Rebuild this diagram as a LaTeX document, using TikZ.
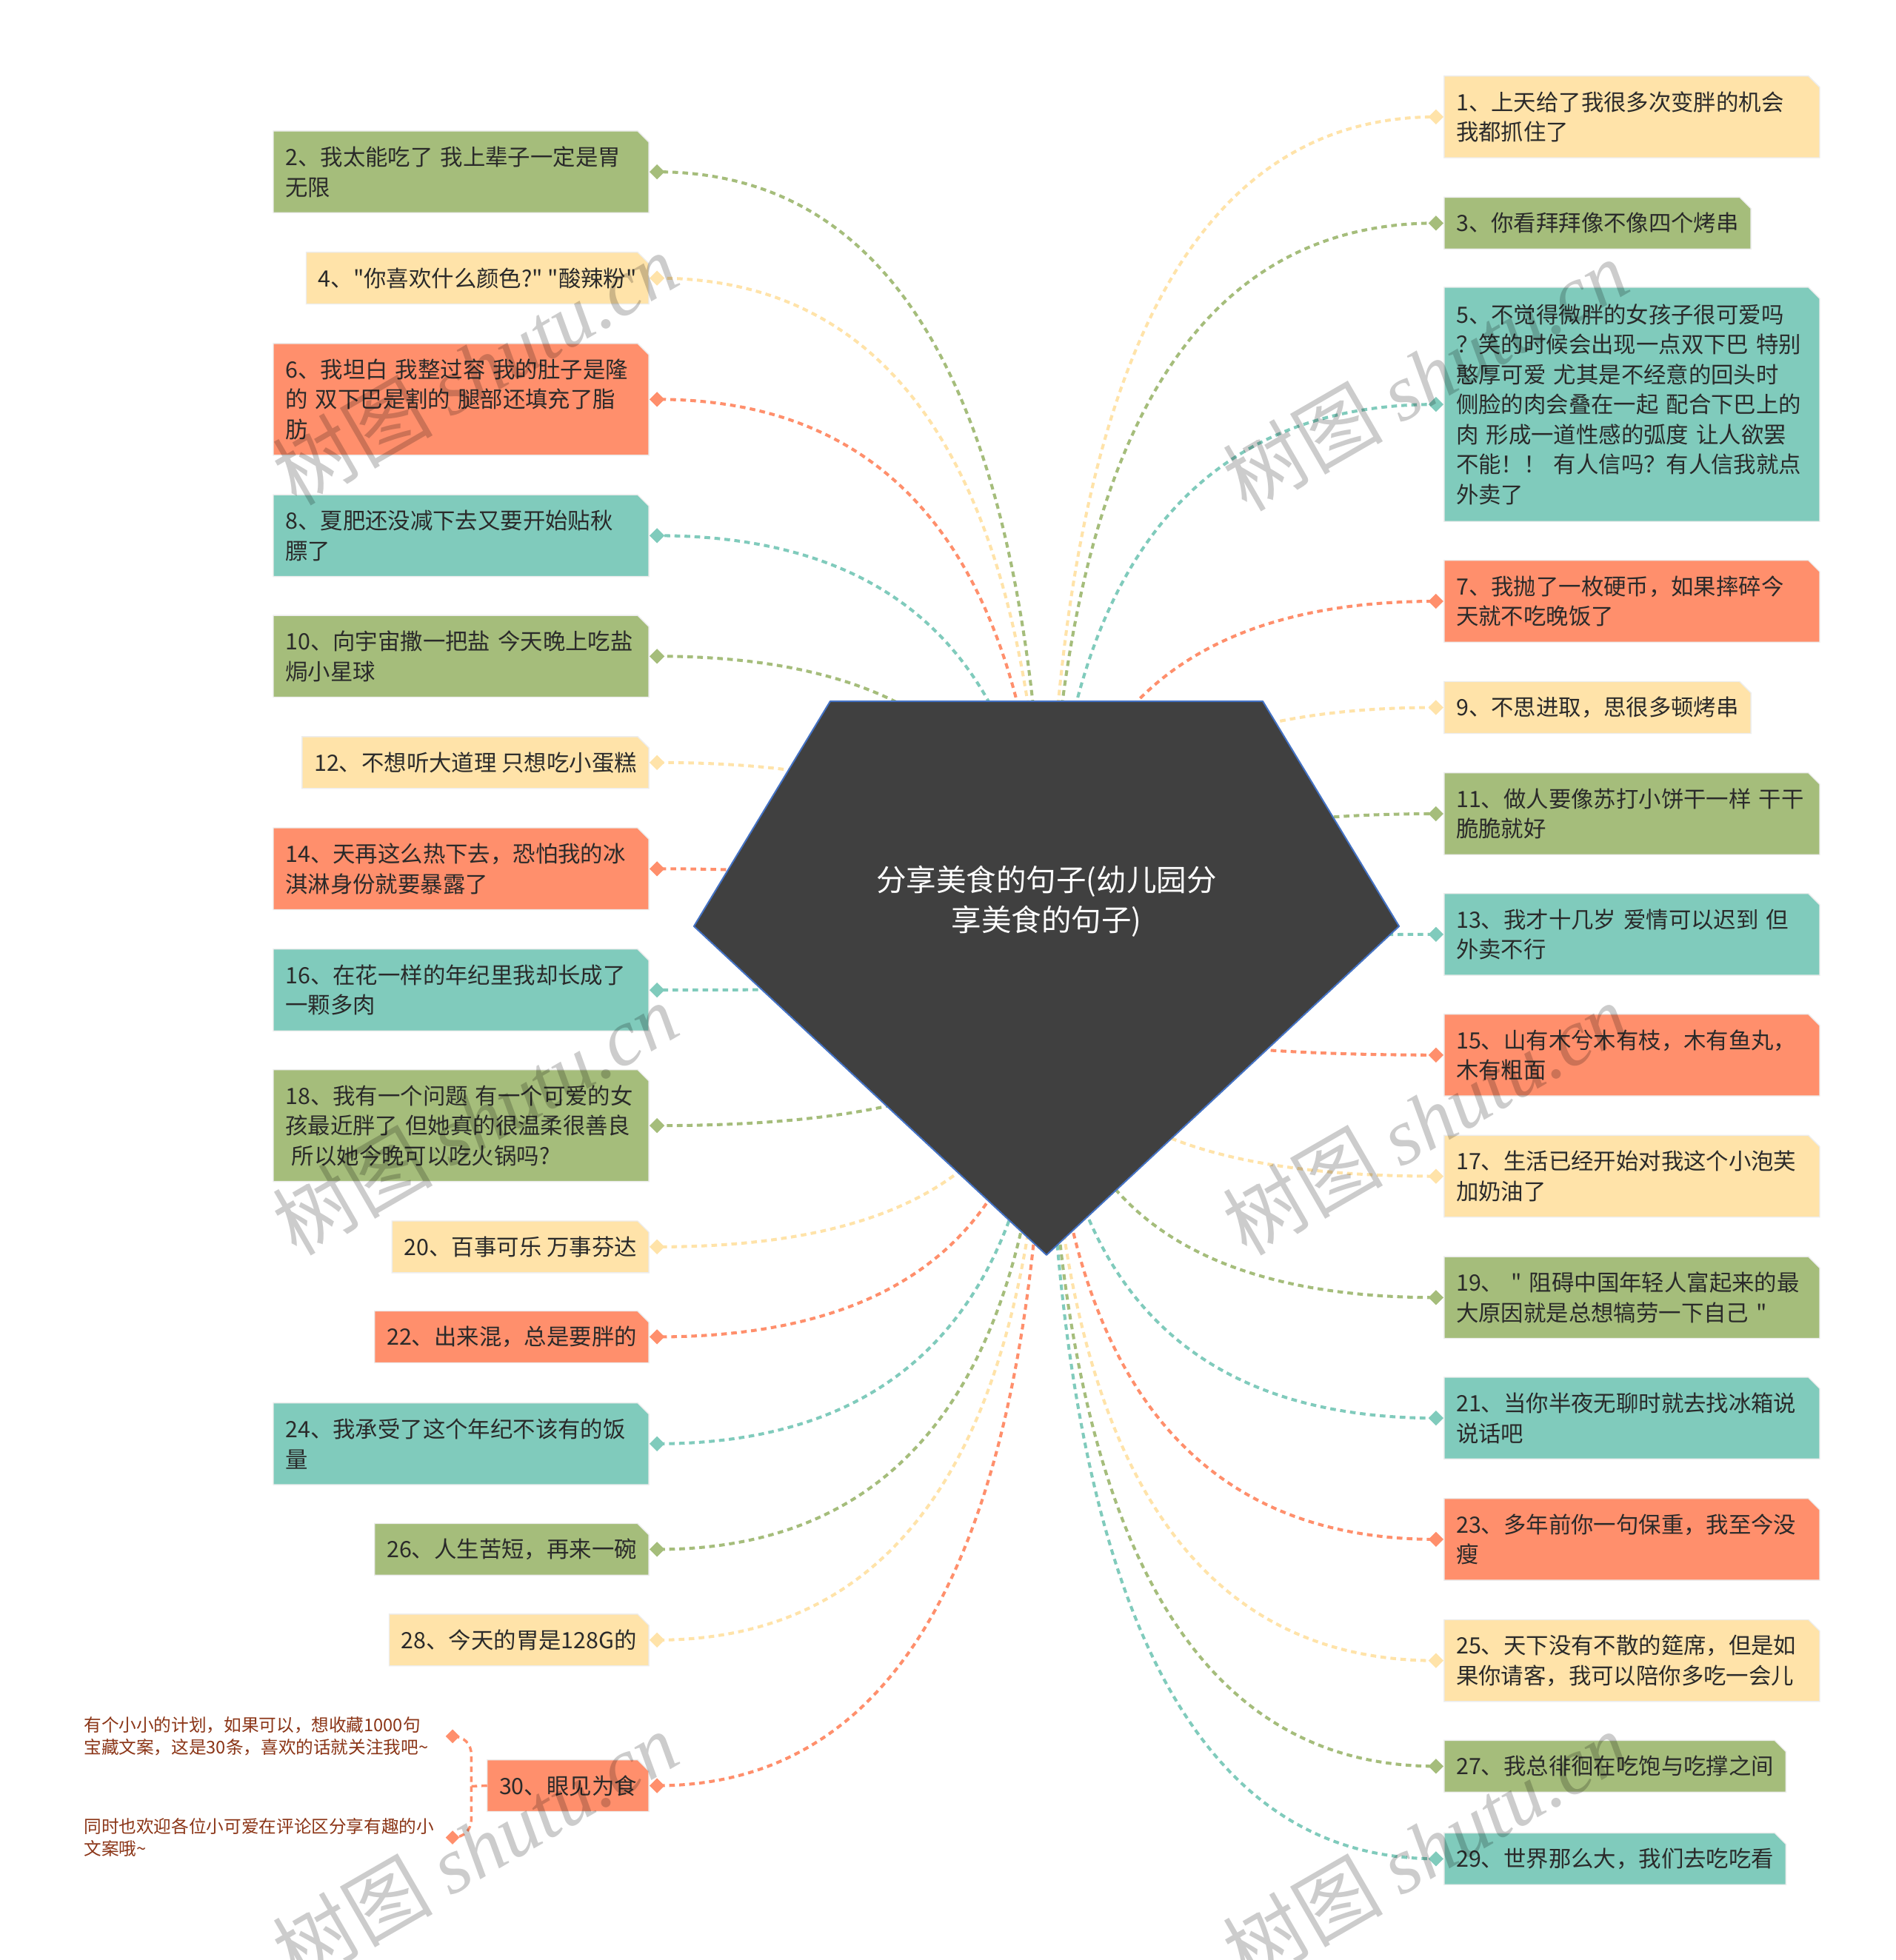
\documentclass[tikz,border=0pt]{standalone}
\usepackage{fontspec}
\setmainfont{Noto Sans CJK SC}[Ligatures=TeXOff]
\newfontfamily\wmlatin{Liberation Serif}
\usetikzlibrary{calc,backgrounds}
\definecolor{cgreen}{HTML}{A5BD7B}
\definecolor{cyellow}{HTML}{FFE3A9}
\definecolor{corange}{HTML}{FF8F6C}
\definecolor{cteal}{HTML}{80CBBC}
\definecolor{txt}{HTML}{2A2A2A}
\definecolor{rootfill}{HTML}{404040}
\definecolor{rootline}{HTML}{4472C4}
\definecolor{notetxt}{HTML}{8B3517}
\tikzset{
  item/.style={font=\fontsize{18}{24}\selectfont, text=txt, inner xsep=9.5pt, inner ysep=0pt, align=left},
  multi/.style={item, text width=281pt},
  conn/.style={draw=#1, line width=2.4pt, dash pattern=on 4.5pt off 3.5pt},
  note/.style={font=\fontsize{14}{18}\selectfont, text=notetxt, align=left, inner sep=0pt},
  wm/.style={rotate=30, font=\fontsize{64}{64}\selectfont, text=black, opacity=0.2, inner sep=0pt},
  h1/.style={minimum height=41pt},
  h2/.style={minimum height=65pt},
  h3/.style={minimum height=89pt},
}
\newcommand\boxbg[2]{\fill[#2] (#1.south west) -- (#1.south east) -- ([yshift=-9pt]#1.north east) -- ([xshift=-9pt]#1.north east) -- (#1.north west) -- cycle;
  \draw[black!7, line width=0.8pt] (#1.south west) -- (#1.south east) -- ([yshift=-9pt]#1.north east) -- ([xshift=-9pt]#1.north east) -- (#1.north west) -- cycle;}
\newcommand\curvelink[2]{%
  \draw[conn=#2] (c) .. controls ($(c)!0.6667!(c|-#1)$) and ($(#1)!0.6667!(c|-#1)$) .. (#1);
  \fill[#2] (#1) +(-6,0) -- +(0,-6) -- +(6,0) -- +(0,6) -- cycle;}
\newcommand\linkL[2]{\coordinate (#1d) at ([xshift=6.5pt]#1.east); \curvelink{#1d}{#2}}
\newcommand\linkR[2]{\coordinate (#1d) at ([xshift=-6.5pt]#1.west); \curvelink{#1d}{#2}}
\newcommand\wmtext{树图 {\wmlatin\itshape shutu.cn}}
\begin{document}
\begin{tikzpicture}[x=1pt,y=-1pt]
\useasboundingbox (0,0) rectangle (1516,1568);
\coordinate (c) at (837,780);
% ---- left nodes
\node[multi, h2, anchor=east] (L2) at (519,137.5) {2、我太能吃了 我上辈子一定是胃\\无限};
\node[item, h1, anchor=east] (L4) at (519,222.5) {4、"你喜欢什么颜色?" "酸辣粉"};
\node[multi, h3, anchor=east] (L6) at (519,319.5) {6、我坦白 我整过容 我的肚子是隆\\的 双下巴是割的 腿部还填充了脂\\肪};
\node[multi, h2, anchor=east] (L8) at (519,428.5) {8、夏肥还没减下去又要开始贴秋\\膘了};
\node[multi, h2, anchor=east] (L10) at (519,525) {10、向宇宙撒一把盐 今天晚上吃盐\\焗小星球};
\node[item, h1, anchor=east] (L12) at (519,610) {12、不想听大道理 只想吃小蛋糕};
\node[multi, h2, anchor=east] (L14) at (519,695) {14、天再这么热下去，恐怕我的冰\\淇淋身份就要暴露了};
\node[multi, h2, anchor=east] (L16) at (519,792) {16、在花一样的年纪里我却长成了\\一颗多肉};
\node[multi, h3, anchor=east] (L18) at (519,900.5) {18、我有一个问题 有一个可爱的女\\孩最近胖了 但她真的很温柔很善良\\\hspace*{5pt}所以她今晚可以吃火锅吗?};
\node[item, h1, anchor=east] (L20) at (519,997.5) {20、百事可乐 万事芬达};
\node[item, h1, anchor=east] (L22) at (519,1069.5) {22、出来混，总是要胖的};
\node[multi, h2, anchor=east] (L24) at (519,1155) {24、我承受了这个年纪不该有的饭\\量};
\node[item, h1, anchor=east] (L26) at (519,1239.5) {26、人生苦短，再来一碗};
\node[item, h1, anchor=east] (L28) at (519,1312) {28、今天的胃是128G的};
\node[item, h1, anchor=east] (L30) at (519,1428.5) {30、眼见为食};
% ---- right nodes
\node[multi, h2, anchor=west] (R1) at (1155,93.5) {1、上天给了我很多次变胖的机会\\我都抓住了};
\node[item, h1, anchor=west] (R3) at (1155,178.5) {3、你看拜拜像不像四个烤串};
\node[multi, minimum height=187pt, anchor=west] (R5) at (1155,323.5) {5、不觉得微胖的女孩子很可爱吗\\？笑的时候会出现一点双下巴 特别\\憨厚可爱 尤其是不经意的回头时\\侧脸的肉会叠在一起 配合下巴上的\\肉 形成一道性感的弧度 让人欲罢\\不能！！ 有人信吗？有人信我就点\\外卖了};
\node[multi, h2, anchor=west] (R7) at (1155,481) {7、我抛了一枚硬币，如果摔碎今\\天就不吃晚饭了};
\node[item, h1, anchor=west] (R9) at (1155,566) {9、不思进取，思很多顿烤串};
\node[multi, h2, anchor=west] (R11) at (1155,651) {11、做人要像苏打小饼干一样~干干\\脆脆就好};
\node[multi, h2, anchor=west] (R13) at (1155,747.5) {13、我才十几岁 爱情可以迟到 但\\外卖不行};
\node[multi, h2, anchor=west] (R15) at (1155,844) {15、山有木兮木有枝，木有鱼丸，\\木有粗面};
\node[multi, h2, anchor=west] (R17) at (1155,941) {17、生活已经开始对我这个小泡芙\\加奶油了};
\node[multi, h2, anchor=west] (R19) at (1155,1038) {19、~"~阻碍中国年轻人富起来的最\\大原因就是总想犒劳一下自己~"};
\node[multi, h2, anchor=west] (R21) at (1155,1134.5) {21、当你半夜无聊时就去找冰箱说\\说话吧};
\node[multi, h2, anchor=west] (R23) at (1155,1231.5) {23、多年前你一句保重，我至今没\\瘦};
\node[multi, h2, anchor=west] (R25) at (1155,1328.5) {25、天下没有不散的筵席，但是如\\果你请客，我可以陪你多吃一会儿};
\node[item, h1, anchor=west] (R27) at (1155,1413) {27、我总徘徊在吃饱与吃撑之间};
\node[item, h1, anchor=west] (R29) at (1155,1487) {29、世界那么大，我们去吃吃看};
% ---- notes
\node[note, anchor=west] (N1) at (67,1389) {有个小小的计划，如果可以，想收藏1000句\\宝藏文案，这是30条，喜欢的话就关注我吧\textasciitilde};
\node[note, anchor=west] (N2) at (67,1470) {同时也欢迎各位小可爱在评论区分享有趣的小\\文案哦\textasciitilde};
\coordinate (N1d) at (362,1389);
\coordinate (N2d) at (362,1470);
\coordinate (bj) at (377,1429);
% ---- root text
\node[font=\fontsize{24}{32}\selectfont, text=white, align=center, inner sep=0pt] (root) at (837,721) {分享美食的句子(幼儿园分\\享美食的句子)};
% ---- background
\begin{scope}[on background layer]
\fill[white] (0,0) rectangle (1516,1568);
\boxbg{L2}{cgreen}\boxbg{L4}{cyellow}\boxbg{L6}{corange}\boxbg{L8}{cteal}
\boxbg{L10}{cgreen}\boxbg{L12}{cyellow}\boxbg{L14}{corange}\boxbg{L16}{cteal}
\boxbg{L18}{cgreen}\boxbg{L20}{cyellow}\boxbg{L22}{corange}\boxbg{L24}{cteal}
\boxbg{L26}{cgreen}\boxbg{L28}{cyellow}\boxbg{L30}{corange}
\boxbg{R1}{cyellow}\boxbg{R3}{cgreen}\boxbg{R5}{cteal}\boxbg{R7}{corange}
\boxbg{R9}{cyellow}\boxbg{R11}{cgreen}\boxbg{R13}{cteal}\boxbg{R15}{corange}
\boxbg{R17}{cyellow}\boxbg{R19}{cgreen}\boxbg{R21}{cteal}\boxbg{R23}{corange}
\boxbg{R25}{cyellow}\boxbg{R27}{cgreen}\boxbg{R29}{cteal}
\linkL{L2}{cgreen}\linkL{L4}{cyellow}\linkL{L6}{corange}\linkL{L8}{cteal}
\linkL{L10}{cgreen}\linkL{L12}{cyellow}\linkL{L14}{corange}\linkL{L16}{cteal}
\linkL{L18}{cgreen}\linkL{L20}{cyellow}\linkL{L22}{corange}\linkL{L24}{cteal}
\linkL{L26}{cgreen}\linkL{L28}{cyellow}\linkL{L30}{corange}
\linkR{R1}{cyellow}\linkR{R3}{cgreen}\linkR{R5}{cteal}\linkR{R7}{corange}
\linkR{R9}{cyellow}\linkR{R11}{cgreen}\linkR{R13}{cteal}\linkR{R15}{corange}
\linkR{R17}{cyellow}\linkR{R19}{cgreen}\linkR{R21}{cteal}\linkR{R23}{corange}
\linkR{R25}{cyellow}\linkR{R27}{cgreen}\linkR{R29}{cteal}
% bracket to notes
\draw[conn=corange, line width=2pt] (L30.west) -- (bj) -- (377,1404) .. controls (377,1395) and (371,1389) .. (N1d);
\draw[conn=corange, line width=2pt] (bj) -- (377,1455) .. controls (377,1464) and (371,1470) .. (N2d);
\fill[corange] (N1d) +(-5.5,0) -- +(0,-5.5) -- +(5.5,0) -- +(0,5.5) -- cycle;
\fill[corange] (N2d) +(-5.5,0) -- +(0,-5.5) -- +(5.5,0) -- +(0,5.5) -- cycle;
% root pentagon
\filldraw[fill=rootfill, draw=rootline, line width=1.2pt, line join=round] (664,561) -- (1010,561) -- (1119,741) -- (837,1004) -- (555,741) -- cycle;
\end{scope}
% ---- watermarks
\node[wm] (w1) at (380,295) {\wmtext};
\node[wm] (w2) at (380,895) {\wmtext};
\node[wm] (w3) at (1140,300) {\wmtext};
\node[wm] (w4) at (1140,895) {\wmtext};
\node[wm] (w5) at (380,1478) {\wmtext};
\node[wm] (w6) at (1140,1478) {\wmtext};
\end{tikzpicture}
\end{document}
